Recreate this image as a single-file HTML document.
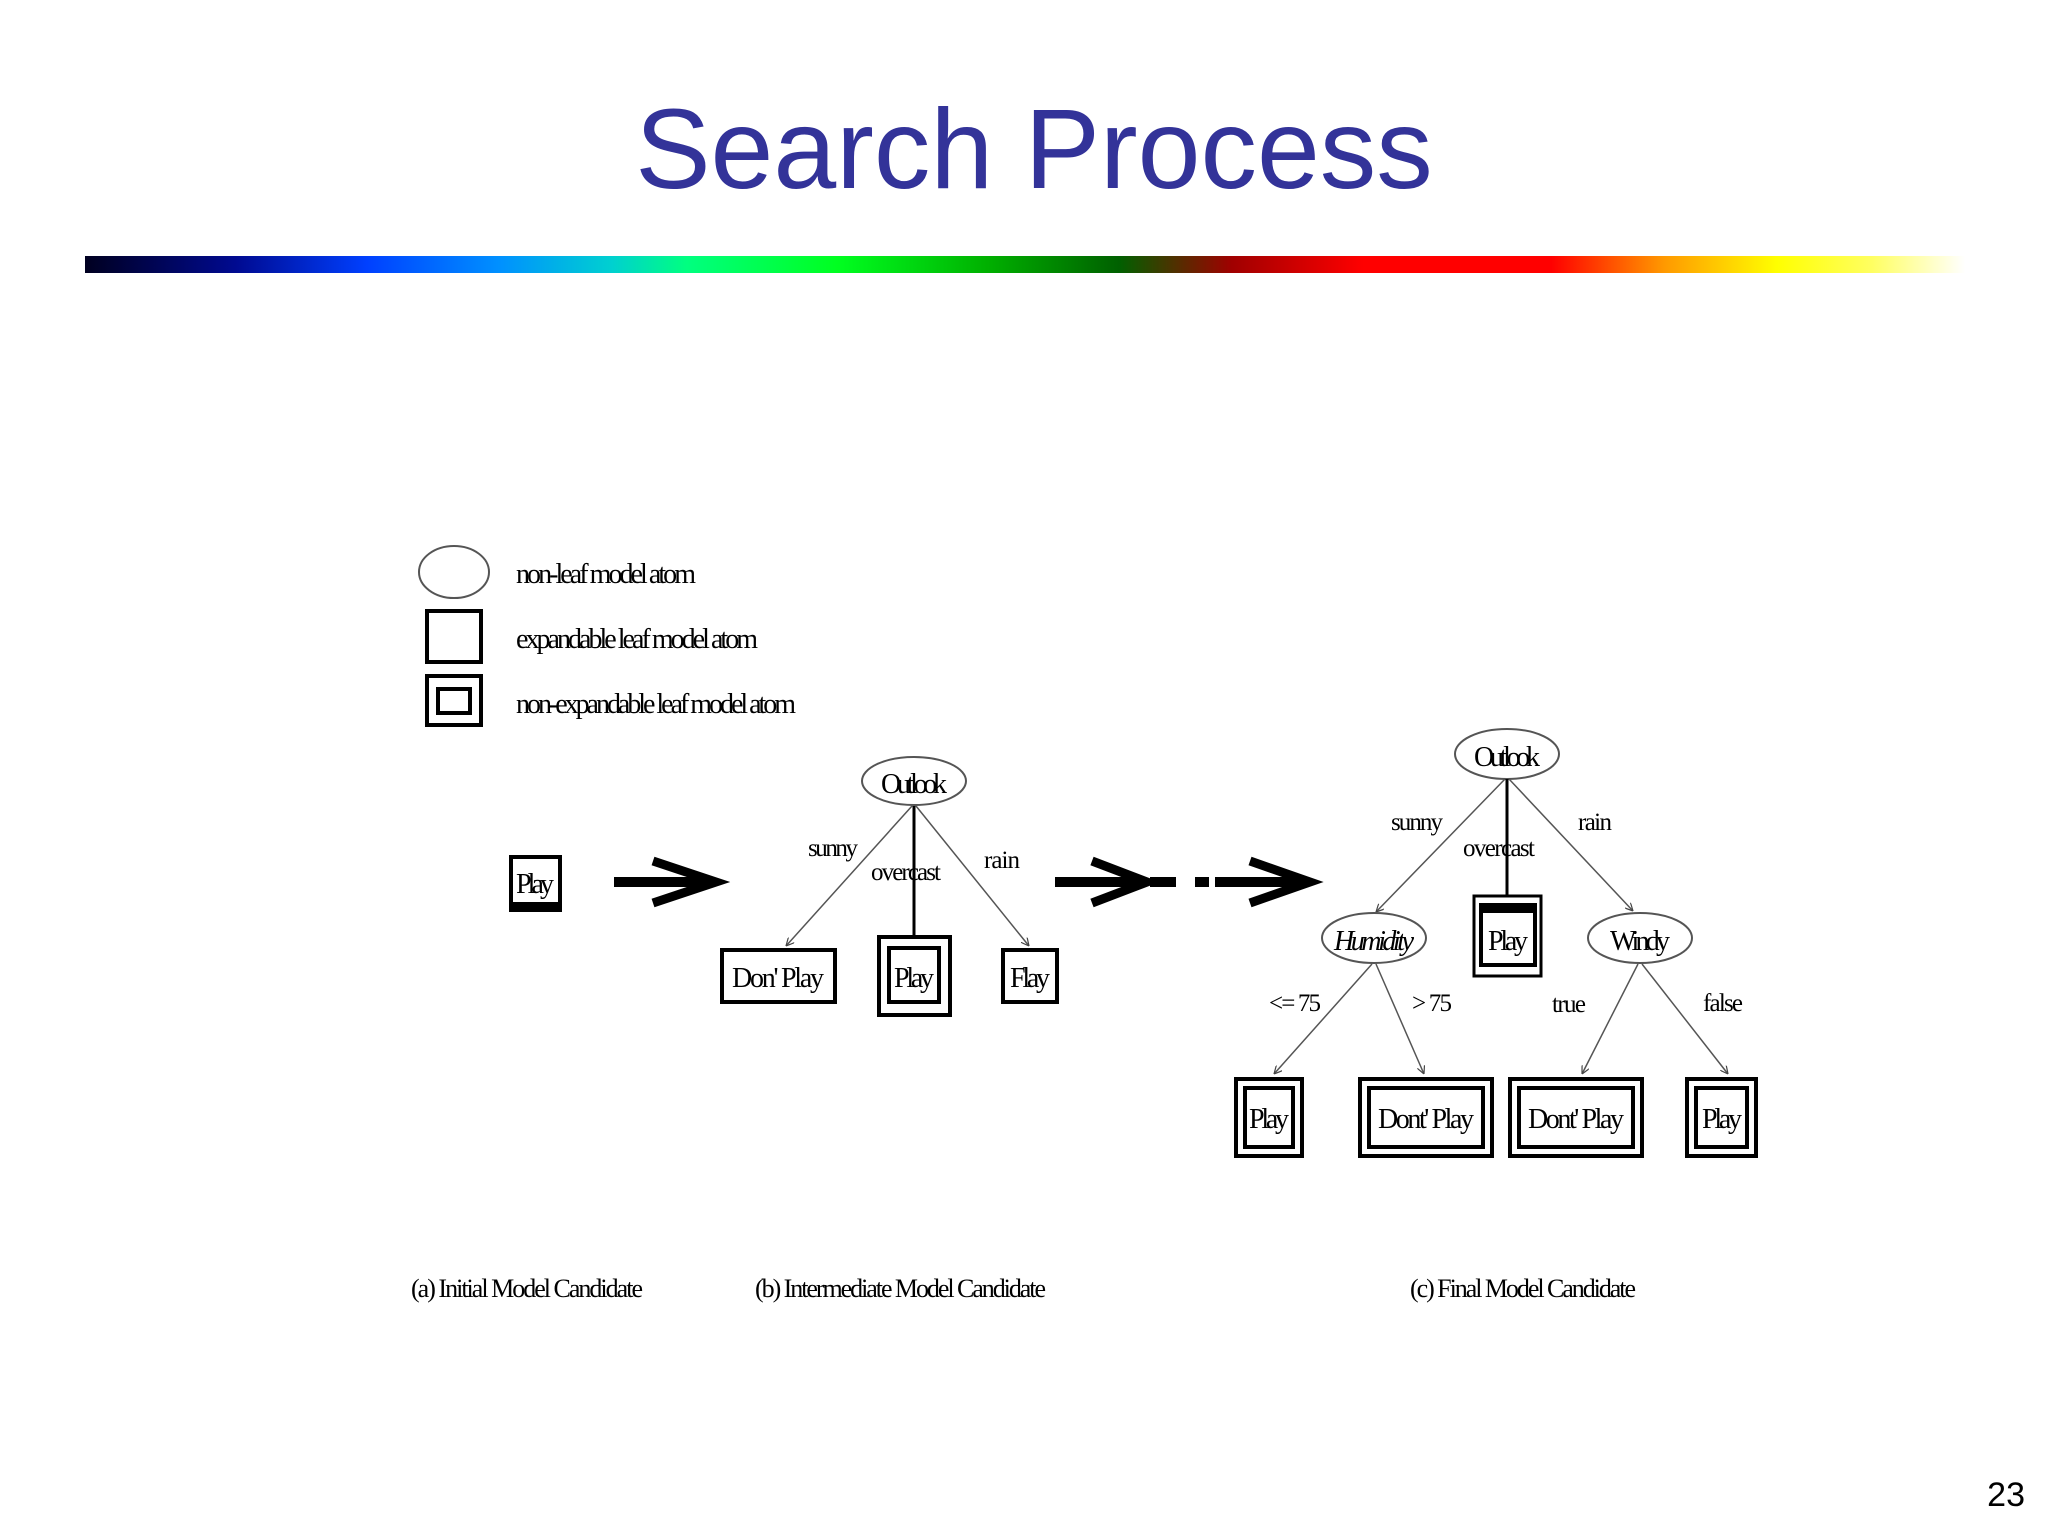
<!DOCTYPE html>
<html><head><meta charset="utf-8"><style>
html,body{margin:0;padding:0;background:#fff;}
svg{display:block;}
.t{font-family:"Liberation Serif",serif;fill:#000;}
</style></head><body>
<svg width="2048" height="1536" viewBox="0 0 2048 1536" xmlns="http://www.w3.org/2000/svg">
<defs>
<linearGradient id="g" x1="0" x2="1" y1="0" y2="0">
<stop offset="0" stop-color="#000020"/>
<stop offset="0.08" stop-color="#000a90"/>
<stop offset="0.15" stop-color="#0040ff"/>
<stop offset="0.22" stop-color="#0090ff"/>
<stop offset="0.28" stop-color="#00d0d0"/>
<stop offset="0.32" stop-color="#00ff80"/>
<stop offset="0.40" stop-color="#00ff20"/>
<stop offset="0.48" stop-color="#00b000"/>
<stop offset="0.55" stop-color="#006000"/>
<stop offset="0.61" stop-color="#a00000"/>
<stop offset="0.68" stop-color="#ff0000"/>
<stop offset="0.78" stop-color="#ff0000"/>
<stop offset="0.84" stop-color="#ff9900"/>
<stop offset="0.90" stop-color="#ffff00"/>
<stop offset="0.95" stop-color="#ffff60"/>
<stop offset="1" stop-color="#ffffff"/>
</linearGradient>
<marker id="ah" viewBox="0 0 10 10" refX="10" refY="5" markerWidth="8" markerHeight="8" orient="auto-start-reverse" markerUnits="userSpaceOnUse"><path d="M0,0 L10,5 L0,10" fill="none" stroke="#444" stroke-width="1.5"/></marker>
</defs>
<text x="1034" y="188" text-anchor="middle" font-family="Liberation Sans, sans-serif" font-size="113" fill="#333399">Search Process</text>
<rect x="85" y="256" width="1880" height="17" fill="url(#g)"/>
<text x="2025" y="1506" text-anchor="end" font-family="Liberation Sans, sans-serif" font-size="34" fill="#000">23</text>

<!-- legend -->
<ellipse cx="454" cy="572" rx="35" ry="26" fill="none" stroke="#555" stroke-width="2"/>
<text class="t" x="516" y="583" font-size="28" textLength="180">non-leaf model atom</text>
<rect x="427" y="611" width="54" height="51" fill="none" stroke="#000" stroke-width="4"/>
<text class="t" x="516" y="648" font-size="28" textLength="242">expandable leaf model atom</text>
<rect x="427" y="676" width="54" height="49" fill="none" stroke="#000" stroke-width="4"/>
<rect x="438" y="689" width="32" height="24" fill="none" stroke="#000" stroke-width="4"/>
<text class="t" x="516" y="713" font-size="28" textLength="280">non-expandable leaf model atom</text>

<!-- (a) -->
<rect x="511" y="857" width="49" height="53" fill="none" stroke="#000" stroke-width="4"/>
<rect x="511" y="902" width="49" height="9" fill="#000"/>
<text class="t" x="535" y="893" font-size="28" text-anchor="middle" textLength="38">Play</text>
<line x1="614" y1="882" x2="712" y2="882" stroke="#000" stroke-width="10"/>
<polyline points="653,861 716,882 653,903" fill="none" stroke="#000" stroke-width="9"/>

<!-- (b) -->
<ellipse cx="914" cy="781" rx="52" ry="24" fill="none" stroke="#555" stroke-width="2"/>
<text class="t" x="914" y="793" font-size="28" text-anchor="middle" textLength="66">Outlook</text>
<line x1="912" y1="806" x2="786" y2="946" stroke="#555" stroke-width="1.5" marker-end="url(#ah)"/>
<line x1="914" y1="806" x2="914" y2="936" stroke="#000" stroke-width="3"/>
<line x1="916" y1="806" x2="1029" y2="946" stroke="#555" stroke-width="1.5" marker-end="url(#ah)"/>
<text class="t" x="833" y="856" font-size="25" text-anchor="middle" textLength="50">sunny</text>
<text class="t" x="906" y="880" font-size="25" text-anchor="middle" textLength="70">overcast</text>
<text class="t" x="1002" y="868" font-size="25" text-anchor="middle" textLength="36">rain</text>
<rect x="722" y="950" width="113" height="52" fill="none" stroke="#000" stroke-width="4"/>
<text class="t" x="778" y="987" font-size="28" text-anchor="middle" textLength="92">Don' Play</text>
<rect x="879" y="937" width="71" height="78" fill="none" stroke="#000" stroke-width="4"/>
<rect x="889" y="948" width="50" height="54" fill="none" stroke="#000" stroke-width="4"/>
<text class="t" x="914" y="987" font-size="28" text-anchor="middle" textLength="40">Play</text>
<rect x="1003" y="950" width="54" height="52" fill="none" stroke="#000" stroke-width="4"/>
<text class="t" x="1030" y="987" font-size="28" text-anchor="middle" textLength="40">Flay</text>

<!-- arrow 2 -->
<line x1="1055" y1="882" x2="1146" y2="882" stroke="#000" stroke-width="10"/>
<polyline points="1092,861 1147,882 1092,903" fill="none" stroke="#000" stroke-width="9"/>
<line x1="1150" y1="882" x2="1176" y2="882" stroke="#000" stroke-width="10"/>
<line x1="1195" y1="882" x2="1209" y2="882" stroke="#000" stroke-width="10"/>
<line x1="1215" y1="882" x2="1306" y2="882" stroke="#000" stroke-width="10"/>
<polyline points="1250,861 1310,882 1250,903" fill="none" stroke="#000" stroke-width="9"/>

<!-- (c) -->
<ellipse cx="1507" cy="754" rx="52" ry="25" fill="none" stroke="#555" stroke-width="2"/>
<text class="t" x="1507" y="766" font-size="28" text-anchor="middle" textLength="66">Outlook</text>
<line x1="1505" y1="779" x2="1376" y2="912" stroke="#555" stroke-width="1.5" marker-end="url(#ah)"/>
<line x1="1507" y1="779" x2="1507" y2="896" stroke="#000" stroke-width="3"/>
<line x1="1509" y1="779" x2="1633" y2="911" stroke="#555" stroke-width="1.5" marker-end="url(#ah)"/>
<text class="t" x="1417" y="830" font-size="25" text-anchor="middle" textLength="52">sunny</text>
<text class="t" x="1499" y="856" font-size="25" text-anchor="middle" textLength="72">overcast</text>
<text class="t" x="1595" y="830" font-size="25" text-anchor="middle" textLength="34">rain</text>

<ellipse cx="1374" cy="938" rx="52" ry="25" fill="none" stroke="#555" stroke-width="2"/>
<text class="t" x="1374" y="950" font-size="28" text-anchor="middle" textLength="80" font-style="italic">Humidity</text>
<rect x="1474" y="896" width="67" height="80" fill="none" stroke="#000" stroke-width="3"/>
<rect x="1481" y="905" width="54" height="60" fill="none" stroke="#000" stroke-width="4"/>
<rect x="1481" y="905" width="54" height="8" fill="#000"/>
<text class="t" x="1508" y="950" font-size="28" text-anchor="middle" textLength="40">Play</text>
<ellipse cx="1640" cy="938" rx="52" ry="25" fill="none" stroke="#555" stroke-width="2"/>
<text class="t" x="1640" y="950" font-size="28" text-anchor="middle" textLength="60">Windy</text>

<line x1="1372" y1="964" x2="1274" y2="1074" stroke="#555" stroke-width="1.5" marker-end="url(#ah)"/>
<line x1="1376" y1="964" x2="1424" y2="1074" stroke="#555" stroke-width="1.5" marker-end="url(#ah)"/>
<line x1="1638" y1="964" x2="1582" y2="1074" stroke="#555" stroke-width="1.5" marker-end="url(#ah)"/>
<line x1="1642" y1="964" x2="1728" y2="1074" stroke="#555" stroke-width="1.5" marker-end="url(#ah)"/>
<text class="t" x="1295" y="1011" font-size="25" text-anchor="middle" textLength="52">&lt;= 75</text>
<text class="t" x="1432" y="1011" font-size="25" text-anchor="middle" textLength="40">&gt; 75</text>
<text class="t" x="1569" y="1012" font-size="25" text-anchor="middle" textLength="34">true</text>
<text class="t" x="1723" y="1011" font-size="25" text-anchor="middle" textLength="40">false</text>

<rect x="1236" y="1079" width="66" height="77" fill="none" stroke="#000" stroke-width="4"/>
<rect x="1245" y="1088" width="48" height="59" fill="none" stroke="#000" stroke-width="4"/>
<text class="t" x="1269" y="1128" font-size="28" text-anchor="middle" textLength="40">Play</text>
<rect x="1360" y="1079" width="132" height="77" fill="none" stroke="#000" stroke-width="4"/>
<rect x="1369" y="1088" width="114" height="59" fill="none" stroke="#000" stroke-width="4"/>
<text class="t" x="1426" y="1128" font-size="28" text-anchor="middle" textLength="96">Dont' Play</text>
<rect x="1510" y="1079" width="132" height="77" fill="none" stroke="#000" stroke-width="4"/>
<rect x="1519" y="1088" width="114" height="59" fill="none" stroke="#000" stroke-width="4"/>
<text class="t" x="1576" y="1128" font-size="28" text-anchor="middle" textLength="96">Dont' Play</text>
<rect x="1687" y="1079" width="69" height="77" fill="none" stroke="#000" stroke-width="4"/>
<rect x="1696" y="1088" width="51" height="59" fill="none" stroke="#000" stroke-width="4"/>
<text class="t" x="1722" y="1128" font-size="28" text-anchor="middle" textLength="40">Play</text>

<!-- captions -->
<text class="t" x="411" y="1297" font-size="26" textLength="232">(a) Initial Model Candidate</text>
<text class="t" x="755" y="1297" font-size="26" textLength="291">(b) Intermediate Model Candidate</text>
<text class="t" x="1410" y="1297" font-size="26" textLength="226">(c) Final Model Candidate</text>
</svg>
</body></html>
